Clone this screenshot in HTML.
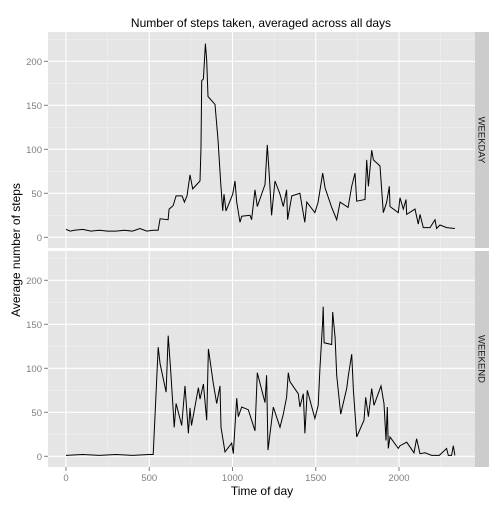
<!DOCTYPE html>
<html><head><meta charset="utf-8"><style>
body{margin:0;background:#fff}
svg text{font-family:"Liberation Sans",sans-serif}
</style></head><body>
<svg id="c" width="504" height="504" xmlns="http://www.w3.org/2000/svg">
<text x="261" y="27" text-anchor="middle" font-size="12" fill="#000">Number of steps taken, averaged across all days</text>
<text x="262" y="495" text-anchor="middle" font-size="12" fill="#000">Time of day</text>
<text transform="translate(20,250) rotate(-90)" text-anchor="middle" font-size="12" fill="#000">Average number of steps</text>
</svg>
<script>
const xTicks=[0,500,1000,1500,2000];
const yTicks=[0,50,100,150,200];
const facetNames=["WEEKDAY","WEEKEND"];
const weekdayX=[0,25,50,100,150,200,250,300,350,400,444,485,523,553,565,613,619,643,661,697,711,727,745,761,805,811,815,825,837,845,853,895,913,929,941,949,961,1001,1015,1025,1045,1055,1105,1115,1135,1149,1195,1209,1221,1235,1255,1285,1305,1325,1331,1356,1405,1434,1446,1495,1514,1542,1556,1596,1626,1646,1694,1716,1736,1746,1796,1806,1816,1836,1846,1886,1906,1926,1942,1946,1996,2006,2026,2042,2046,2096,2116,2126,2146,2186,2216,2226,2246,2286,2336];
const weekdayY=[9,7,8,9,7,8,7,7,8,7,10,7,8,8,21,20,32,36,47,47,40,47,71,55,64,102,178,180,220,201,160,151,111,62,30,49,30,49,64,40,17,24,25,20,54,35,60,105,70,25,64,49,35,54,20,47,50,17,40,28,40,73,56,34,20,40,34,58,73,41,43,88,58,99,88,81,28,40,58,35,28,45,32,43,26,32,15,26,11,11,20,10,14,11,10];
const weekendX=[0,100,200,300,400,500,524,554,565,601,614,629,644,650,661,695,715,735,745,754,795,805,825,845,855,885,905,925,931,955,995,1005,1025,1035,1055,1095,1135,1149,1195,1205,1213,1245,1285,1305,1325,1335,1345,1395,1405,1425,1435,1449,1495,1515,1525,1541,1545,1550,1596,1602,1616,1626,1650,1686,1696,1716,1726,1746,1790,1800,1816,1836,1850,1892,1910,1922,1930,1936,1946,1996,2006,2046,2090,2106,2126,2156,2196,2242,2286,2296,2316,2326,2336];
const weekendY=[1,2,1,2,1,2,2,124,105,73,137,97,52,33,60,35,80,26,55,35,78,65,82,41,122,82,60,80,33,5,15,3,66,45,56,53,29,95,61,92,7,56,33,48,67,95,85,71,56,71,26,75,43,58,99,152,170,129,127,164,135,92,48,77,92,116,75,22,41,67,45,77,58,80,60,18,56,9,22,9,12,16,4,20,3,4,1,1,9,1,1,12,1];
const NS="http://www.w3.org/2000/svg";
const svg=document.getElementById('c');
const X0=48,X1=475;
const xs=v=>66+v*(333/2000);
const panels=[{top:32,bot:248,y0:237.3,x:weekdayX,y:weekdayY},{top:251,bot:467,y0:456.3,x:weekendX,y:weekendY}];
const k=176/200;
function mk(t,a){const e=document.createElementNS(NS,t);for(const n in a)e.setAttribute(n,a[n]);svg.appendChild(e);return e;}
panels.forEach((p,i)=>{
  const ys=v=>p.y0-v*k;
  const bg=mk('rect',{x:X0,y:p.top,width:X1-X0,height:p.bot-p.top,fill:'#E5E5E5'});
  
  
  for(let v=-25;v<=225;v+=50){const y=ys(v);if(y>p.top&&y<p.bot)mk('line',{x1:X0,x2:X1,y1:y,y2:y,stroke:'#F2F2F2','stroke-width':0.5});}
  for(let v=-250;v<=2250;v+=500){const x=xs(v);if(x>X0&&x<X1)mk('line',{x1:x,x2:x,y1:p.top,y2:p.bot,stroke:'#F2F2F2','stroke-width':0.5});}
  yTicks.forEach(v=>{const y=ys(v);
    mk('line',{x1:X0,x2:X1,y1:y,y2:y,stroke:'#fff','stroke-width':1.1});
    mk('line',{x1:X0-4,x2:X0,y1:y,y2:y,stroke:'#7F7F7F','stroke-width':1});
    const t=mk('text',{x:X0-6,y:y+3.5,'text-anchor':'end','font-size':9.5,fill:'#7F7F7F'});t.textContent=v;
    
    });
  xTicks.forEach(v=>{const x=xs(v);mk('line',{x1:x,x2:x,y1:p.top,y2:p.bot,stroke:'#fff','stroke-width':1.1});});
  const s=mk('rect',{x:X1,y:p.top,width:14,height:p.bot-p.top,fill:'#CCCCCC'});
  
  
  const st=mk('text',{transform:`translate(${X1+3.5},${(p.top+p.bot)/2}) rotate(90)`,'text-anchor':'middle','font-size':9.5,fill:'#1a1a1a'});st.textContent=facetNames[i];
  
  
  const d=p.x.map((xv,j)=>(j?'L':'M')+xs(xv).toFixed(1)+','+ys(p.y[j]).toFixed(1)).join('');
  const l=mk('path',{d:d,fill:'none',stroke:'#000','stroke-width':1});
  
  
});
xTicks.forEach(v=>{const x=xs(v);
  mk('line',{x1:x,x2:x,y1:467,y2:471,stroke:'#7F7F7F','stroke-width':1});
  const t=mk('text',{x:x,y:481,'text-anchor':'middle','font-size':9.5,fill:'#7F7F7F'});t.textContent=v;
  
  });
</script>
</body></html>
